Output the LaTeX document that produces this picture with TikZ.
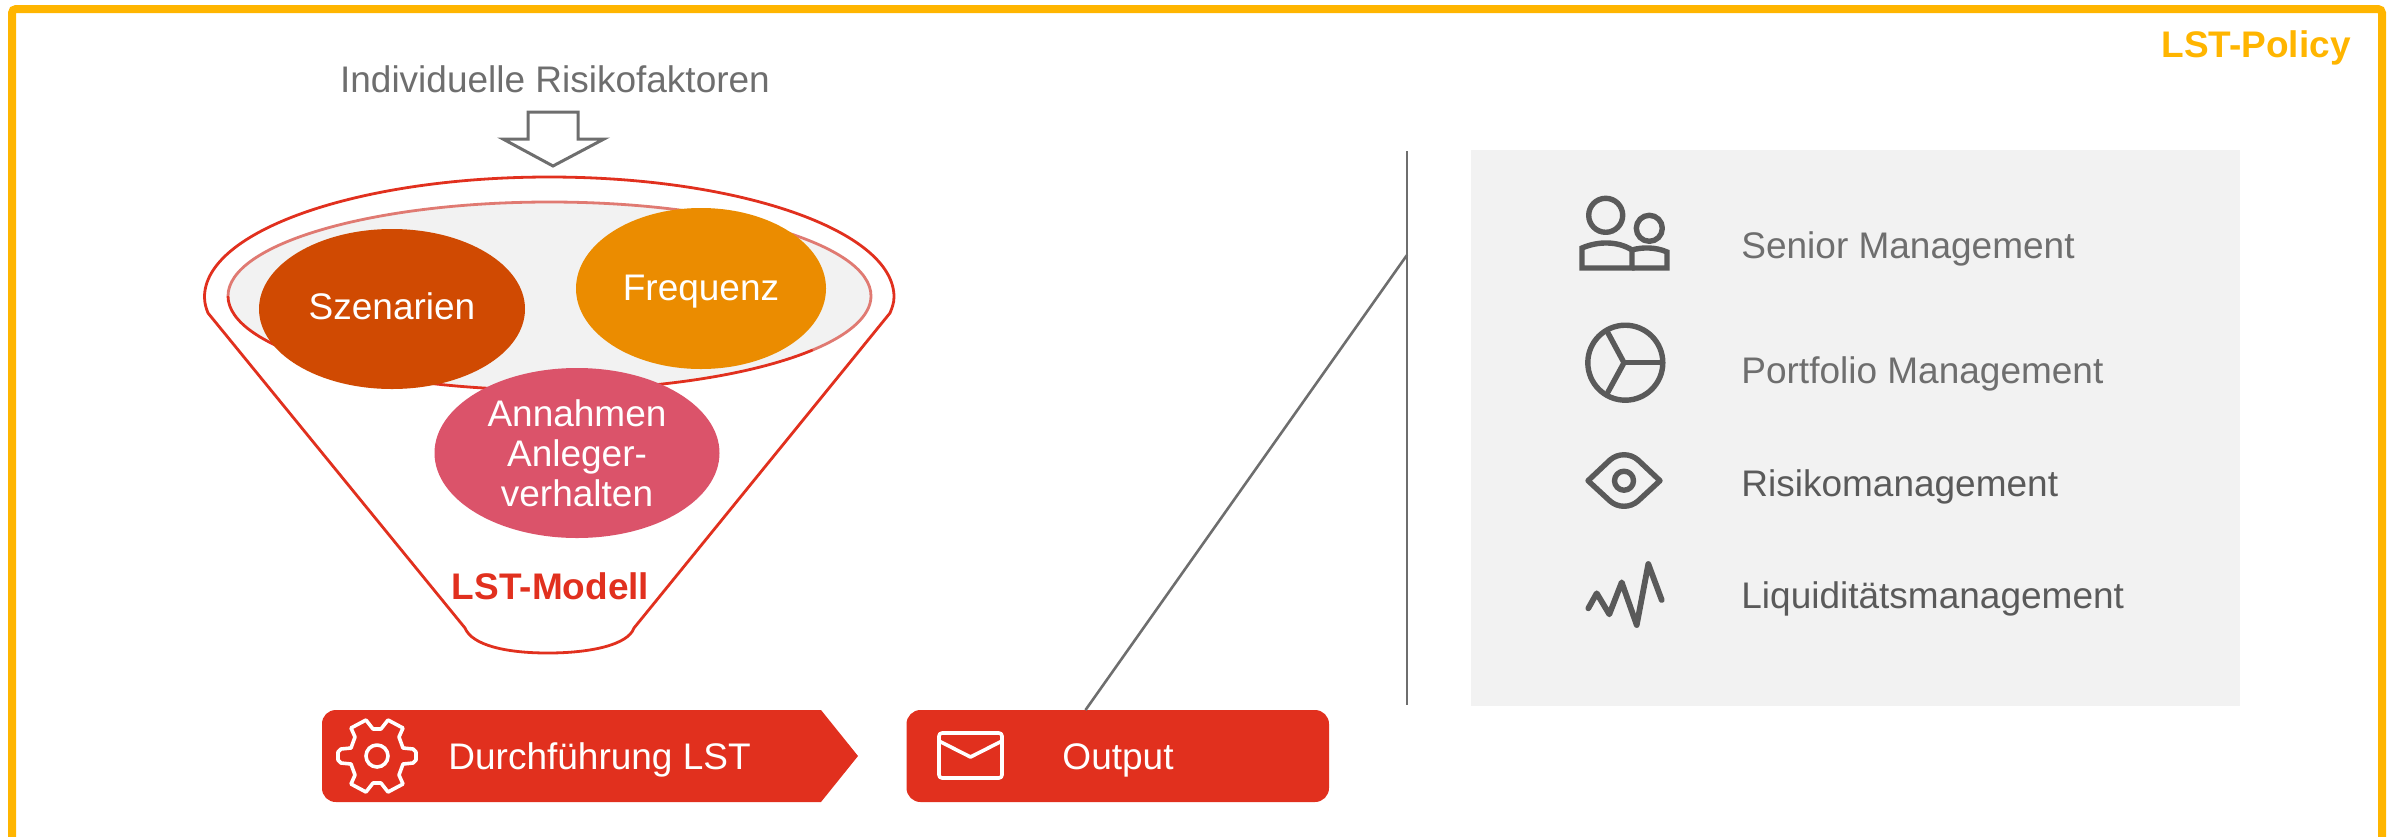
\documentclass[tikz,border=0pt]{standalone}
\usetikzlibrary{shapes.geometric}
\usepackage{fontspec}
\setmainfont{Liberation Sans}
\definecolor{framey}{HTML}{FFB500}
\definecolor{lstred}{HTML}{E1301E}
\definecolor{inkgrey}{HTML}{6E6E6E}
\definecolor{darkgrey}{HTML}{5A5A5A}
\definecolor{panelgrey}{HTML}{F2F2F2}
\definecolor{szen}{HTML}{D04A02}
\definecolor{freq}{HTML}{EB8C00}
\definecolor{annah}{HTML}{DB536A}
\definecolor{palered}{HTML}{E07A72}
\begin{document}
\begin{tikzpicture}[x=0.5pt,y=-0.5pt,
  blob/.style={ellipse,draw=none,inner sep=0pt,text=white,align=center,font=\fontsize{18.5}{20}\selectfont},
  rowtext/.style={anchor=base west,inner sep=0pt,font=\fontsize{18.5}{20}\selectfont},
  icon/.style={draw=darkgrey,line width=2.7pt,line join=round,line cap=round},
  whiteicon/.style={draw=white,line width=1.8pt,line join=round},
  btn/.style={fill=lstred,draw=none},
  conn/.style={draw=inkgrey,line width=1.3pt}
]
\useasboundingbox (0,0) rectangle (2397,836);
% frame
\draw[framey,line width=4pt,rounded corners=2pt] (12,840) -- (12,9) -- (2382,9) -- (2382,840);
\node[anchor=base east,inner sep=0pt,text=framey,font=\bfseries\fontsize{18.5}{20}\selectfont] (policy) at (2351,57) {LST-Policy};
% top label and arrow
\node[anchor=base,inner sep=0pt,text=inkgrey,font=\fontsize{18.5}{20}\selectfont] (risk) at (555,92) {Individuelle Risikofaktoren};
\draw[draw=inkgrey,fill=white,line width=1.5pt,line join=miter]
  (528,112) -- (578,112) -- (578,139) -- (604,139) -- (553,166) -- (503,139) -- (528,139) -- cycle;
% funnel
\draw[lstred,line width=1.4pt,fill=white,line join=round]
  (208,313) .. controls (206,308) and (204.5,303) .. (204.5,297)
  arc [start angle=180,end angle=360,x radius=344.75,y radius=120]
  .. controls (894,303) and (892,308) .. (890,313)
  -- (634,628)
  .. controls (628,645) and (590,653) .. (548,653)
  .. controls (505,653) and (472,645) .. (465,628)
  -- cycle;
% inner ellipse
\fill[panelgrey] (549.5,296) ellipse [x radius=321.5,y radius=94];
\draw[palered,line width=1.4pt] (228,296) arc [start angle=180,end angle=395,x radius=321.5,y radius=94];
\draw[lstred,line width=1.4pt] (228,296) arc [start angle=180,end angle=35,x radius=321.5,y radius=94];
% blobs
\node[blob,fill=szen,minimum width=133pt,minimum height=80pt,text height=10.5pt,text depth=0pt] (szenarien) at (392,309) {Szenarien};
\node[blob,fill=freq,minimum width=125pt,minimum height=80.5pt,text height=11.5pt,text depth=0pt] (frequenz) at (701,288.5) {Frequenz};
\node[blob,fill=annah,minimum width=142.5pt,minimum height=85pt] (annahmen) at (577,453) {\raisebox{1.2pt}{\parbox{100pt}{\centering Annahmen\\Anleger-\\verhalten}}};
\node[anchor=base,inner sep=0pt,text=lstred,font=\bfseries\fontsize{18.5}{20}\selectfont] (modell) at (550.5,599) {LST-Modell};
% buttons
\fill[lstred] (336,710) -- (821,710) -- (858,756) -- (821,802) -- (336,802)
  .. controls (328,802) and (322,796) .. (322,788) -- (322,724)
  .. controls (322,716) and (328,710) .. (336,710) -- cycle;
\node[anchor=base west,inner sep=0pt,text=white,font=\fontsize{18.5}{20}\selectfont] (dur) at (448,769) {Durchführung LST};
\node[btn,rounded corners=7pt,inner sep=0pt,minimum width=211.25pt,minimum height=46pt] (output) at (1117.75,756) {};
\node[anchor=base,inner sep=0pt,text=white,font=\fontsize{18.5}{20}\selectfont] (outtext) at (1118,769) {Output};
% gear
\begin{scope}[shift={(377,756)}]
\draw[whiteicon]
  (-4,-27) -- (4,-27) -- (11,-36) -- (26,-28) -- (22,-19) -- (26,-8) -- (36,-7) -- (39,-4) -- (39,4) -- (36,7) -- (26,8)
  -- (22,19) -- (26,28) -- (11,36) -- (4,27) -- (-4,27) -- (-11,36) -- (-26,28) -- (-22,19) -- (-26,8) -- (-36,7) -- (-39,4)
  -- (-39,-4) -- (-36,-7) -- (-26,-8) -- (-22,-19) -- (-26,-28) -- (-11,-36) -- cycle;
\draw[whiteicon] (0,0) circle [radius=11];
\end{scope}
% envelope
\draw[whiteicon,rounded corners=1.5pt] (939,733) rectangle (1002,778);
\draw[whiteicon] (939,741) -- (970.5,757) -- (1002,741);
% panel
\fill[panelgrey] (1471,150) rectangle (2240,706);
\coordinate (vtop) at (1407,151);
\coordinate (vbot) at (1407,705);
\coordinate (diagend) at (1407,255);
\coordinate (diagstart) at (1085.5,710);
\draw[conn] (vtop) -- (vbot);
\draw[conn] (diagstart) -- (diagend);
% row texts
\node[rowtext,text=inkgrey] (t1) at (1741,258) {Senior Management};
\node[rowtext,text=inkgrey] (t2) at (1741,383) {Portfolio Management};
\node[rowtext,text=darkgrey] (t3) at (1741,496) {Risikomanagement};
\node[rowtext,text=darkgrey] (t4) at (1741,608) {Liquiditätsmanagement};
% people icon
\draw[icon] (1605.7,215.3) circle [radius=17];
\draw[icon] (1649.3,228.3) circle [radius=13];
\draw[icon,line cap=butt,line join=miter] (1632,268) -- (1582,268) -- (1582,248) .. controls (1598,241) and (1618,241) .. (1632,250) -- cycle;
\draw[icon,line cap=butt,line join=miter] (1632,268) -- (1667,268) -- (1667,252) .. controls (1656,247) and (1642,247) .. (1632,250);
% pie icon
\draw[icon] (1625.3,362.7) circle [radius=37.5];
\draw[icon] (1608,333) -- (1624,362.7) -- (1608,392);
\draw[icon] (1624,362.7) -- (1660,362.7);
% eye icon
\draw[icon] (1588,480.7) -- (1610,460) .. controls (1618,453) and (1630,453) .. (1638,460) -- (1660,480.7)
  -- (1638,501) .. controls (1630,508) and (1618,508) .. (1610,501) -- cycle;
\draw[icon] (1624,480.7) circle [radius=9.5];
% wave icon
\draw[icon,line width=2.9pt] (1588.3,608.3) -- (1596.7,593.3) -- (1609.3,614.3) -- (1621.7,582.3) -- (1636.7,625) -- (1648.3,564) -- (1661.7,600);
\end{tikzpicture}
\end{document}
